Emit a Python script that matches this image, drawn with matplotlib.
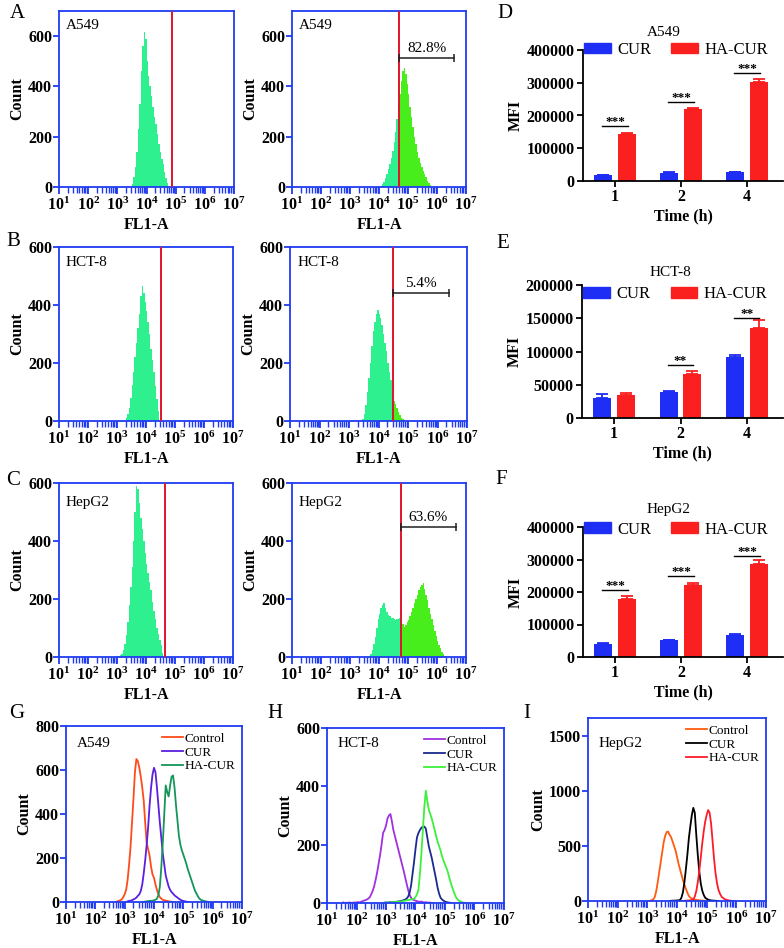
import numpy as np
import matplotlib
matplotlib.use('Agg')
import matplotlib.pyplot as plt
from matplotlib.patches import Rectangle, Patch
from matplotlib.ticker import LogLocator, FixedLocator, NullFormatter, FuncFormatter

plt.rcParams['font.family'] = ['Liberation Serif', 'DejaVu Serif']
plt.rcParams['mathtext.fontset'] = 'custom'
plt.rcParams['mathtext.rm'] = 'Liberation Serif'
plt.rcParams['mathtext.bf'] = 'Liberation Serif:bold'
plt.rcParams['mathtext.it'] = 'Liberation Serif:italic'

# ---------------- data ----------------
BIN = 0.05  # histogram bin width in log10 units

# A: A549 single histograms (start = log10 of first bin edge)
A_ctrl_start = 3.50
A_ctrl = [10, 40, 80, 140, 230, 330, 460, 560, 615, 590, 500, 440, 400, 360, 320,
          280, 250, 210, 170, 140, 110, 90, 60, 35, 15]
A_ctrl_gate = 4.86
A_ha_start = 4.05
A_ha = [5, 10, 20, 35, 50, 70, 90, 115, 145, 180, 220, 270, 310, 370, 420, 460, 472,
        450, 410, 370, 320, 280, 240, 200, 170, 140, 115, 95, 78, 65, 50, 38, 25, 15, 6]
A_ha_gate = 4.69
A_pct = "82.8%"
A_pct_end = 6.60
A_pct_y = 513

# B: HCT-8
B_ctrl_start = 3.25
B_ctrl = [5, 12, 25, 45, 80, 125, 170, 220, 270, 320, 370, 430, 465, 440, 410, 380,
          340, 300, 250, 210, 170, 120, 75, 35, 5]
B_ctrl_gate = 4.50
B_ha_start = 3.45
B_ha = [8, 25, 55, 100, 150, 200, 260, 310, 340, 370, 382, 370, 355, 330, 300, 270,
        240, 200, 170, 140, 100, 70, 60, 45, 32, 20, 12, 6, 3]
B_ha_gate = 4.50
B_pct = "5.4%"
B_pct_end = 6.39
B_pct_y = 442

# C: HepG2
C_ctrl_start = 3.05
C_ctrl = [3, 6, 12, 25, 45, 75, 120, 180, 240, 310, 400, 500, 590, 580, 530, 480, 440,
          400, 360, 320, 290, 260, 230, 190, 160, 130, 100, 80, 60, 40, 15]
C_ctrl_gate = 4.67
C_ha_start = 3.65
C_ha = [5, 12, 25, 45, 70, 100, 130, 150, 170, 180, 185, 170, 155, 145, 140, 135, 135,
        132, 128, 130, 132, 135, 130, 115, 105, 110, 120, 128, 140, 155, 170, 185, 200,
        215, 230, 240, 250, 255, 235, 215, 195, 170, 150, 130, 110, 90, 72, 55, 42, 30,
        18, 10, 4]
C_ha_gate = 4.75
C_pct = "63.6%"
C_pct_end = 6.65
C_pct_y = 449

# D/E/F: MFI bar charts
times = ["1", "2", "4"]
D_cur = [17000, 25000, 27000]
D_cur_err = [1500, 2500, 1500]
D_ha = [142000, 220000, 303000]
D_ha_err = [4000, 2000, 8000]
D_sig = ["***", "***", "***"]
D_sig_y = [169000, 242000, 330000]

E_cur = [30000, 39000, 92000]
E_cur_err = [6000, 2000, 3000]
E_ha = [34000, 66000, 135000]
E_ha_err = [3000, 5000, 12000]
E_sig = [None, "**", "**"]
E_sig_y = [None, 80000, 151000]

F_cur = [41000, 52000, 69000]
F_cur_err = [2000, 1500, 2000]
F_ha = [177000, 223000, 286000]
F_ha_err = [12000, 6000, 13000]
F_sig = ["***", "***", "***"]
F_sig_y = [205000, 250000, 311000]

# G/H/I: overlay histograms (line)
G_ctrl_start = 2.70
G_ctrl = [0, 3, 5, 8, 12, 22, 35, 55, 100, 170, 250, 360, 470, 590, 650, 640, 610, 570,
          520, 460, 360, 270, 240, 210, 160, 125, 110, 80, 55, 35, 22, 15, 10, 8, 6, 5,
          3, 2, 1, 0]
G_cur_start = 3.05
G_cur = [0, 3, 5, 6, 8, 12, 15, 20, 28, 35, 50, 80, 130, 190, 260, 340, 440, 520, 580,
         610, 590, 520, 440, 360, 290, 220, 170, 120, 95, 70, 55, 45, 38, 30, 25, 20,
         15, 10, 7, 5, 3, 2, 0]
G_ha_start = 3.65
G_ha = [0, 2, 3, 4, 5, 5, 6, 8, 10, 15, 30, 70, 160, 270, 400, 530, 500, 480, 530, 570,
        575, 520, 440, 370, 300, 260, 235, 215, 195, 175, 150, 130, 110, 90, 70, 50,
        38, 25, 15, 10, 7, 5, 3, 2, 0]

H_ctrl_start = 1.55
H_ctrl = [2, 0, 1, 0, 2, 1, 0, 2, 1, 2, 3, 2, 4, 6, 8, 10, 12, 15, 20, 30, 42, 58, 80,
          105, 135, 165, 200, 240, 250, 265, 290, 300, 305, 280, 250, 230, 210, 190,
          170, 150, 130, 110, 88, 66, 45, 28, 18, 12, 10, 8, 6, 5, 4, 5, 3, 2, 3, 1, 2,
          1, 0, 0]
H_cur_start = 2.90
H_cur = [0, 1, 2, 1, 2, 3, 2, 3, 4, 4, 5, 6, 7, 8, 10, 12, 15, 22, 35, 60, 100, 140,
         185, 225, 240, 250, 258, 262, 262, 255, 225, 195, 175, 155, 130, 105, 80, 52,
         32, 18, 12, 8, 5, 3, 2, 1, 0]
H_ha_start = 2.90
H_ha = [0, 1, 1, 2, 1, 2, 2, 3, 3, 4, 4, 5, 5, 6, 7, 8, 9, 10, 11, 12, 13, 15, 20, 30,
        45, 100, 170, 250, 330, 385, 350, 320, 305, 290, 270, 250, 230, 210, 195, 180,
        160, 145, 132, 120, 105, 85, 68, 52, 38, 25, 15, 10, 6, 4, 2, 1, 0]

I_ctrl_start = 3.05
I_ctrl = [0, 3, 8, 15, 35, 90, 170, 260, 350, 440, 530, 590, 625, 630, 600, 580, 540,
          500, 460, 400, 340, 290, 240, 190, 150, 110, 75, 45, 30, 22, 15, 12, 10, 8,
          6, 5, 4, 3, 2, 0]
I_cur_start = 3.75
I_cur = [0, 2, 3, 3, 4, 5, 6, 8, 30, 80, 170, 290, 420, 570, 680, 780, 845, 800, 600,
         420, 270, 160, 95, 55, 30, 20, 12, 8, 5, 4, 3, 2, 1, 0]
I_ha_start = 4.20
I_ha = [0, 2, 3, 4, 5, 6, 8, 15, 40, 90, 170, 270, 390, 520, 630, 720, 780, 825, 800,
        700, 540, 380, 250, 160, 100, 65, 40, 28, 18, 12, 8, 5, 3, 2, 1, 0]

legend_labels = ["Control", "CUR", "HA-CUR"]

# ---------------- styling ----------------
W, H = 784, 948
fig = plt.figure(figsize=(W / 100, H / 100), dpi=100)

AXBLUE = '#1f3cf2'
MINT = '#2ef08e'
BRIGHT = '#47ee1c'
GATE_RED = '#e0142c'
BAR_BLUE = '#1f2ef5'
BAR_RED = '#fb2020'
FS = 11.5


def px_axes(l, t, r, b):
    return fig.add_axes([l / W, 1 - b / H, (r - l) / W, (b - t) / H])


def edges_of(start, counts):
    return 10 ** (start + BIN * np.arange(len(counts) + 1))


def centers_of(start, counts):
    return 10 ** (start + BIN * np.arange(len(counts)))


def style_hist(ax, ymax, yticks):
    ax.set_xscale('log')
    ax.set_xlim(10, 1e7)
    ax.set_ylim(0, ymax)
    for s in ax.spines.values():
        s.set_color(AXBLUE)
        s.set_linewidth(1.3)
    ax.xaxis.set_major_locator(FixedLocator([10.0 ** k for k in range(1, 8)]))
    ax.xaxis.set_minor_locator(LogLocator(base=10, subs=np.arange(2, 10), numticks=30))
    ax.xaxis.set_minor_formatter(NullFormatter())
    ax.xaxis.set_major_formatter(
        FuncFormatter(lambda v, p: r'$\mathbf{10^{%d}}$' % int(round(np.log10(v)))))
    ax.tick_params(axis='x', which='major', direction='out', length=5, width=1.3,
                   color=AXBLUE, labelsize=FS, pad=2)
    ax.tick_params(axis='x', which='minor', direction='out', length=4, width=1.0,
                   color=AXBLUE)
    ax.set_yticks(yticks)
    ax.tick_params(axis='y', direction='out', length=4, width=1.3, color=AXBLUE,
                   labelsize=FS, pad=1)
    for t in ax.get_yticklabels():
        t.set_fontweight('bold')
    ax.set_ylabel('Count', fontweight='bold', fontsize=FS, labelpad=2)
    ax.set_xlabel('FL1-A', fontweight='bold', fontsize=FS, labelpad=2)


def hist_panel(ax, start, counts, gate, ymax, yticks, label, lab_xy,
               gated=False, pct=None, pct_end=None, pct_y=None):
    style_hist(ax, ymax, yticks)
    e = edges_of(start, counts)
    ax.stairs(counts, e, fill=True, color=MINT, lw=0, zorder=2)
    if gated:
        p = ax.stairs(counts, e, fill=True, color=BRIGHT, lw=0, zorder=2)
        clip = Rectangle((10 ** gate, 0), 1e9, 1e5, transform=ax.transData)
        p.set_clip_path(clip)
    ax.axvline(10 ** gate, color=GATE_RED, lw=1.4, zorder=3)
    ax.text(lab_xy[0], lab_xy[1], label, transform=ax.transAxes, fontsize=11,
            ha='left', va='center')
    if pct is not None:
        ax.plot([10 ** gate, 10 ** pct_end], [pct_y, pct_y], color='#202020', lw=1.1,
                zorder=4)
        ax.plot([10 ** gate, 10 ** pct_end], [pct_y, pct_y], ls='none', marker='|',
                ms=6, mew=1.1, color='#202020', zorder=4)
        ax.annotate(pct, (10 ** ((gate + pct_end) / 2), pct_y), xytext=(0, 2),
                    textcoords='offset points', ha='center', va='bottom', fontsize=11)


def bar_panel(ax, cur, cur_err, ha, ha_err, ymax, yticks, title, title_x, title_dy,
              sig, sig_y, leg_y):
    x = np.arange(len(times))
    ax.bar(x - 0.18, cur, 0.27, color=BAR_BLUE, zorder=2)
    ax.bar(x + 0.18, ha, 0.27, color=BAR_RED, zorder=2)
    ax.errorbar(x - 0.18, cur, yerr=[np.zeros(3), cur_err], fmt='none', ecolor=BAR_BLUE,
                elinewidth=1.3, capsize=4, capthick=1.3, zorder=3)
    ax.errorbar(x + 0.18, ha, yerr=[np.zeros(3), ha_err], fmt='none', ecolor=BAR_RED,
                elinewidth=1.3, capsize=4, capthick=1.3, zorder=3)
    for i, (s, yv) in enumerate(zip(sig, sig_y)):
        if s is None:
            continue
        ax.plot([i - 0.19, i + 0.19], [yv, yv], color='black', lw=1.0, zorder=3,
                clip_on=False)
        ax.annotate(s, (i, yv), xytext=(0, -1.5), textcoords='offset points', ha='center',
                    va='bottom', fontsize=9.5, fontweight='bold')
    ax.set_xlim(-0.485, 2.545)
    ax.set_ylim(0, ymax)
    ax.set_xticks(x)
    ax.set_xticklabels(times)
    ax.set_yticks(yticks)
    for sname in ['top', 'right']:
        ax.spines[sname].set_visible(False)
    for sname in ['left', 'bottom']:
        ax.spines[sname].set_linewidth(1.3)
    ax.tick_params(direction='out', length=4, width=1.3, labelsize=FS, pad=2)
    for t in ax.get_yticklabels() + ax.get_xticklabels():
        t.set_fontweight('bold')
    ax.set_ylabel('MFI', fontweight='bold', fontsize=FS, labelpad=2)
    ax.set_xlabel('Time (h)', fontweight='bold', fontsize=FS, labelpad=2)
    ax.annotate(title, (title_x, 1.0), xycoords='axes fraction', xytext=(0, title_dy),
                textcoords='offset pixels', ha='center', va='center', fontsize=11)
    handles = [Patch(color=BAR_BLUE, label='CUR'), Patch(color=BAR_RED, label='HA-CUR')]
    ax.legend(handles=handles, loc='center', bbox_to_anchor=(0.465, leg_y), ncol=2,
              frameon=False, fontsize=12, handlelength=1.6, handleheight=0.6,
              handletextpad=0.4, columnspacing=1.2, borderaxespad=0, borderpad=0)


def line_panel(ax, series, colors, ymax, yticks, label, lab_xy):
    style_hist(ax, ymax, yticks)
    for (start, counts), c, lab in zip(series, colors, legend_labels):
        ax.plot(centers_of(start, counts), counts, color=c, lw=1.3, label=lab)
    ax.text(lab_xy[0], lab_xy[1], label, transform=ax.transAxes, fontsize=11,
            ha='left', va='center')
    ax.legend(loc='upper right', frameon=False, fontsize=9.5, handlelength=1.6,
              handletextpad=0.1, labelspacing=0.12, borderaxespad=0.2, borderpad=0.3)


# ---------------- panels ----------------
axA1 = px_axes(59, 11, 234, 187)
hist_panel(axA1, A_ctrl_start, A_ctrl, A_ctrl_gate, 700, [0, 200, 400, 600], 'A549',
           (0.04, 0.92))
axA2 = px_axes(292, 11, 466, 187)
hist_panel(axA2, A_ha_start, A_ha, A_ha_gate, 700, [0, 200, 400, 600], 'A549',
           (0.04, 0.92), gated=True, pct=A_pct, pct_end=A_pct_end, pct_y=A_pct_y)

axB1 = px_axes(59, 247, 233, 421)
hist_panel(axB1, B_ctrl_start, B_ctrl, B_ctrl_gate, 600, [0, 200, 400, 600], 'HCT-8',
           (0.04, 0.91))
axB2 = px_axes(290, 247, 467, 421)
hist_panel(axB2, B_ha_start, B_ha, B_ha_gate, 600, [0, 200, 400, 600], 'HCT-8',
           (0.04, 0.91), gated=True, pct=B_pct, pct_end=B_pct_end, pct_y=B_pct_y)

axC1 = px_axes(59, 483, 233, 657)
hist_panel(axC1, C_ctrl_start, C_ctrl, C_ctrl_gate, 600, [0, 200, 400, 600], 'HepG2',
           (0.04, 0.89))
axC2 = px_axes(292, 483, 466, 657)
hist_panel(axC2, C_ha_start, C_ha, C_ha_gate, 600, [0, 200, 400, 600], 'HepG2',
           (0.04, 0.89), gated=True, pct=C_pct, pct_end=C_pct_end, pct_y=C_pct_y)

axD = px_axes(583, 50, 783, 181)
bar_panel(axD, D_cur, D_cur_err, D_ha, D_ha_err, 400000,
          [0, 100000, 200000, 300000, 400000], 'A549', 0.405, 18, D_sig, D_sig_y, 1.0)
axE = px_axes(582, 285, 783, 418)
bar_panel(axE, E_cur, E_cur_err, E_ha, E_ha_err, 200000,
          [0, 50000, 100000, 150000, 200000], 'HCT-8', 0.44, 12, E_sig, E_sig_y, 0.93)
axF = px_axes(583, 527, 783, 657)
bar_panel(axF, F_cur, F_cur_err, F_ha, F_ha_err, 400000,
          [0, 100000, 200000, 300000, 400000], 'HepG2', 0.43, 18, F_sig, F_sig_y, 0.98)

axG = px_axes(66, 726, 242, 902)
line_panel(axG, [(G_ctrl_start, G_ctrl), (G_cur_start, G_cur), (G_ha_start, G_ha)],
           ['#ff4a1a', '#5a1fe0', '#14955a'], 800, [0, 200, 400, 600, 800], 'A549',
           (0.06, 0.90))
axH = px_axes(327, 728, 504, 903)
line_panel(axH, [(H_ctrl_start, H_ctrl), (H_cur_start, H_cur), (H_ha_start, H_ha)],
           ['#a030e0', '#1a2a90', '#3cf03c'], 600, [0, 200, 400, 600], 'HCT-8',
           (0.06, 0.91))
axI = px_axes(588, 718, 766, 901)
line_panel(axI, [(I_ctrl_start, I_ctrl), (I_cur_start, I_cur), (I_ha_start, I_ha)],
           ['#ff5a10', '#000000', '#ff1a2a'], 1660, [0, 500, 1000, 1500], 'HepG2',
           (0.06, 0.86))

# panel letters
for letter, (px, py) in {'A': (17, 14), 'B': (13, 242), 'C': (13, 480),
                         'D': (505, 13), 'E': (503, 243), 'F': (501, 479),
                         'G': (17, 713), 'H': (275, 713), 'I': (527, 713)}.items():
    fig.text(px / W, 1 - py / H, letter, fontsize=15, ha='center', va='center')

fig.savefig('out.png', dpi=100)
